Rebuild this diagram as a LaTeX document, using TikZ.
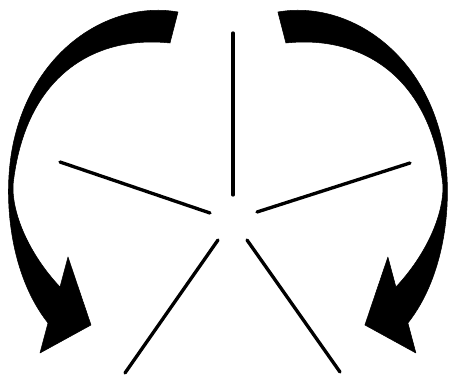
\documentclass[tikz,border=0pt]{standalone}
\usepackage{tikz}

\begin{document}
\begin{tikzpicture}[
        x=0.02cm, y=-0.02cm
    ]
    \tikzstyle{spoke}=[draw,line width=1.9pt,line cap=round];
    \tikzstyle{turn}=[fill=black,draw=black,line width=0.3pt,line join=round];
    \useasboundingbox (0,0) rectangle (451,380);
    % left arrow
    \begin{scope}
        \path[turn] (178,12) .. controls (110,0) and (30,50) .. (12,150)
            .. controls (3,200) and (10,275) .. (48,323)
            -- (40,353) -- (91,325) -- (68,257) -- (60,287)
            .. controls (30,255) and (12,215) .. (13,185)
            .. controls (25,75) and (95,35) .. (170,43) -- cycle;
    \end{scope}
    % right arrow
    \begin{scope}[xshift=9.12cm, xscale=-1]
        \path[turn] (178,12) .. controls (110,0) and (30,50) .. (12,150)
            .. controls (3,200) and (10,275) .. (48,323)
            -- (40,353) -- (91,325) -- (68,257) -- (60,287)
            .. controls (30,255) and (12,215) .. (13,185)
            .. controls (25,75) and (95,35) .. (170,43) -- cycle;
    \end{scope}
    % spokes
    \coordinate (top1) at (233,33);
    \coordinate (top2) at (233,195);
    \coordinate (lft1) at (60,162);
    \coordinate (lft2) at (210,213);
    \coordinate (rgt1) at (410,163);
    \coordinate (rgt2) at (257,212);
    \coordinate (dl1) at (218,240);
    \coordinate (dl2) at (125,373);
    \coordinate (dr1) at (247,240);
    \coordinate (dr2) at (340,372);
    \draw[spoke] (top1) -- (top2);
    \draw[spoke] (lft1) -- (lft2);
    \draw[spoke] (rgt1) -- (rgt2);
    \draw[spoke] (dl1) -- (dl2);
    \draw[spoke] (dr1) -- (dr2);
\end{tikzpicture}
\end{document}
